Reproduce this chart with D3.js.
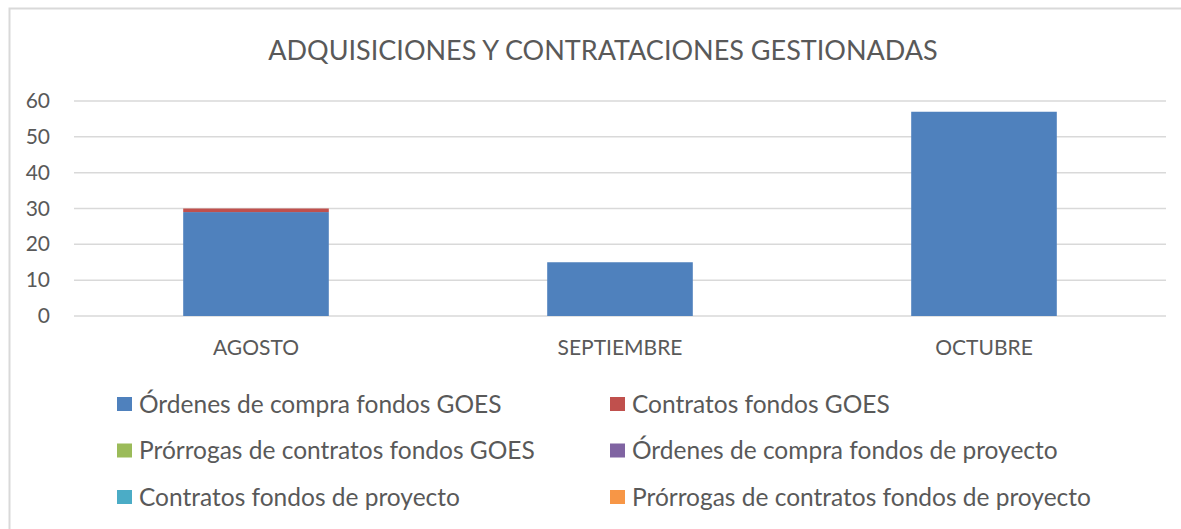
<!DOCTYPE html>
<meta charset="utf-8">
<script src="https://cdn.jsdelivr.net/npm/d3@7"></script>
<style>
	body{margin:0;background:#fff;font-family:Lato,"Open Sans",sans-serif;}
	text{fill:#595959;}
</style>
<div id="chart"></div>
<script>
var months = ["AGOSTO","SEPTIEMBRE","OCTUBRE"]
var seriesNames = ["Órdenes de compra fondos GOES","Contratos fondos GOES","Prórrogas de contratos fondos GOES",
	"Órdenes de compra fondos de proyecto","Contratos fondos de proyecto","Prórrogas de contratos fondos de proyecto"]
var ordenesGoes = [29,15,57]
var contratosGoes = [1,0,0]
var prorrogasGoes = [0,0,0]
var ordenesProyecto = [0,0,0]
var contratosProyecto = [0,0,0]
var prorrogasProyecto = [0,0,0]
var yTicks = [0,10,20,30,40,50,60]
var colors = ["#4f81bd","#c0504d","#9bbb59","#8064a2","#4bacc6","#f79646"]

var width = 1181, height = 529
var svg = d3.select("#chart").append("svg").attr("width",width).attr("height",height)

// chart border (runs off the right and bottom of the picture)
svg.append("rect").attr("x",9.5).attr("y",8.5).attr("width",width+20).attr("height",height+20)
	.attr("fill","none").attr("stroke","#d9d9d9").attr("stroke-width",2)

svg.append("text").attr("x",603).attr("y",60).attr("text-anchor","middle")
	.style("font-size","27px").text("ADQUISICIONES Y CONTRATACIONES GESTIONADAS")

var x = d3.scaleBand().domain(months).range([74,1166]).paddingInner(0.6).paddingOuter(0.3)
var y = d3.scaleLinear().domain([0,60]).range([316,101])

svg.append("g").selectAll("line").data(yTicks).enter().append("line")
	.attr("x1",74).attr("x2",1166).attr("y1",d=>y(d)).attr("y2",d=>y(d))
	.attr("stroke","#d9d9d9").attr("stroke-width",1.5)

svg.append("g").selectAll("text").data(yTicks).enter().append("text")
	.attr("x",50).attr("y",d=>y(d)+7).attr("text-anchor","end")
	.style("font-size","21px").text(d=>d)

var rows = months.map(function(m,i){
	return {month:m,s0:ordenesGoes[i],s1:contratosGoes[i],s2:prorrogasGoes[i],
		s3:ordenesProyecto[i],s4:contratosProyecto[i],s5:prorrogasProyecto[i]}
})
var stack = d3.stack().keys(["s0","s1","s2","s3","s4","s5"])(rows)

svg.append("g").selectAll("g").data(stack).enter().append("g")
	.attr("fill",(d,i)=>colors[i])
	.selectAll("rect").data(d=>d).enter().append("rect")
	.attr("x",d=>x(d.data.month)).attr("width",x.bandwidth())
	.attr("y",d=>y(d[1])).attr("height",d=>y(d[0])-y(d[1]))

svg.append("g").selectAll("text").data(months).enter().append("text")
	.attr("x",d=>x(d)+x.bandwidth()/2).attr("y",355).attr("text-anchor","middle")
	.style("font-size","21px").text(d=>d)

// legend, two columns
var legend = svg.append("g").selectAll("g").data(seriesNames).enter().append("g")
	.attr("transform",function(d,i){
		var lx = i%2==0 ? 117 : 610
		var ly = 404 + Math.floor(i/2)*46.5
		return "translate("+lx+","+ly+")"
	})
legend.append("rect").attr("x",0).attr("y",-7).attr("width",15).attr("height",14)
	.attr("fill",(d,i)=>colors[i])
legend.append("text").attr("x",22).attr("y",8.5).style("font-size","24.5px").text(d=>d)
</script>
